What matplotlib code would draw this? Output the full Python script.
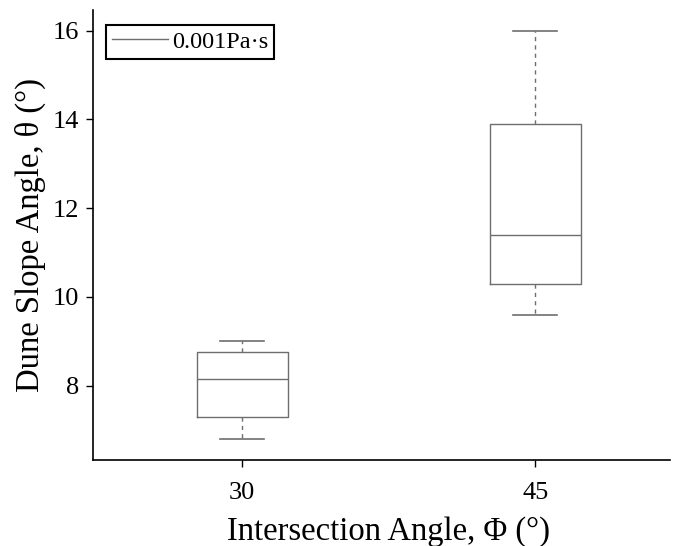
import matplotlib.pyplot as plt
from matplotlib.lines import Line2D

# box statistics
categories = ["30", "45"]
whislo = [6.8, 9.6]
q1 = [7.3, 10.3]
med = [8.15, 11.4]
q3 = [8.75, 13.9]
whishi = [9.0, 16.0]

plt.rcParams["font.family"] = ["Liberation Serif", "DejaVu Serif"]

fig = plt.figure(figsize=(6.78, 5.46), dpi=100)
ax = fig.add_axes([0.137, 0.158, 0.851, 0.824])

stats = []
for i in range(len(categories)):
    stats.append({"whislo": whislo[i], "q1": q1[i], "med": med[i],
                  "q3": q3[i], "whishi": whishi[i], "fliers": []})

grey = "#6e6e6e"
ax.bxp(stats, positions=[1, 2], widths=0.31, showfliers=False,
       boxprops=dict(color=grey, linewidth=1.0),
       medianprops=dict(color=grey, linewidth=1.0),
       whiskerprops=dict(color=grey, linewidth=1.0, linestyle=(0, (3, 3))),
       capprops=dict(color=grey, linewidth=1.2), capwidths=0.15)

ax.set_xlim(0.49, 2.46)
ax.set_ylim(6.33, 16.47)
ax.set_xticks([1, 2])
ax.set_xticklabels(categories)
ax.set_yticks([8, 10, 12, 14, 16])
ax.tick_params(labelsize=19, length=5, width=1, direction="out")
ax.tick_params(axis="x", pad=11)
ax.tick_params(axis="y", pad=5)
ax.spines["top"].set_visible(False)
ax.spines["right"].set_visible(False)
ax.spines["left"].set_linewidth(1.2)
ax.spines["bottom"].set_linewidth(1.2)

ax.set_xlabel("Intersection Angle, Φ (°)", fontsize=23.5, labelpad=9)
ax.set_ylabel("Dune Slope Angle, θ (°)", fontsize=23.5, labelpad=5)
ax.xaxis.label.set_x(0.513)

handle = Line2D([], [], color=grey, linewidth=1.0)
leg = ax.legend([handle], ["0.001Pa·s"], loc="upper left", fontsize=17.5,
                fancybox=False, edgecolor="black", framealpha=1,
                handlelength=2.3, handletextpad=0.17, borderpad=0.25,
                borderaxespad=0, bbox_to_anchor=(0.0225, 0.967))
leg.get_frame().set_linewidth(1.5)

plt.savefig("out.png", dpi=100)
plt.close()
